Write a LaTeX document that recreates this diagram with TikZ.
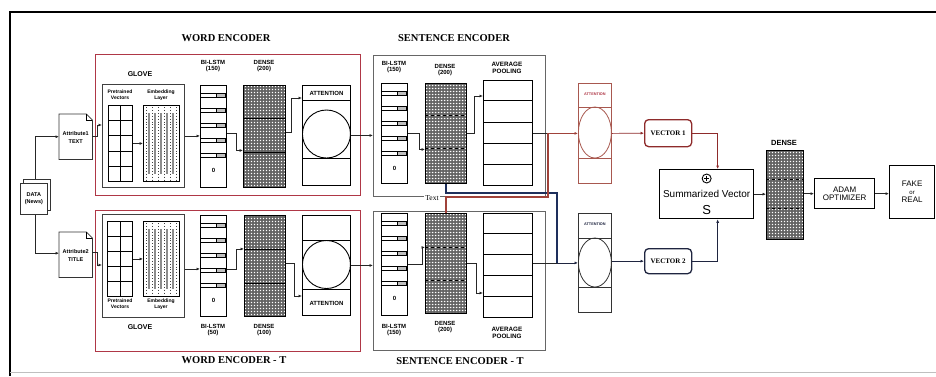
\documentclass[tikz,border=0pt]{standalone}
\usepackage{fontspec}
\setmainfont{Liberation Serif}
\newfontfamily\sansf{Liberation Sans}
\usetikzlibrary{arrows.meta,calc,patterns}
\pgfdeclarepatternformonly{wdots}{\pgfpointorigin}{\pgfqpoint{3.4pt}{3.4pt}}{\pgfqpoint{3.4pt}{3.4pt}}{%
  \pgfpathrectangle{\pgfqpoint{0.9pt}{0.9pt}}{\pgfqpoint{1.7pt}{1.7pt}}\pgfusepath{fill}}
\newcommand\FSz[2]{\fontsize{#1}{#2}\selectfont}
\definecolor{redc}{RGB}{175,55,70}
\definecolor{attred}{RGB}{168,88,79}
\definecolor{vecred}{RGB}{142,43,43}
\definecolor{vecblue}{RGB}{31,37,64}
\definecolor{linkred}{RGB}{160,66,58}
\definecolor{linkblue}{RGB}{30,47,92}
\newcommand\Bx[6]{\node[#6, minimum width={#4pt-#2pt}, minimum height={#5pt-#3pt}] (#1) at (#2,#3) {};}
\newcommand\Dots[1]{%
  \fill[pattern=wdots, pattern color=white] (#1.north west) rectangle (#1.south east);
  \draw[line width=0.9pt] (#1.north west) rectangle (#1.south east);}
\newcommand\Slots[1]{%
  \foreach \s in {8,23,38,53,68}{%
    \draw[line width=0.6pt] ($(#1.north west)+(0,\s)$) -- ($(#1.north east)+(0,\s)$);
    \draw[line width=0.6pt] ($(#1.north west)+(0,\s+4)$) -- ($(#1.north east)+(0,\s+4)$);
    \draw[line width=0.7pt, fill=black!25] ($(#1.north east)+(-11,\s)$) rectangle ($(#1.north east)+(-1.5,\s+4)$);
  }%
  \node[font=\sansf\bfseries\FSz{6}{7}, inner sep=0] at ($(#1.north)+(0,85)$) {0};}
\newcommand\Grid[1]{%
  \draw[line width=0.8pt] (#1.north) -- (#1.south);
  \foreach \k in {1,...,4}{\draw[line width=0.8pt] ($(#1.north west)!\k/5!(#1.south west)$) -- ($(#1.north east)!\k/5!(#1.south east)$);}}
\newcommand\Emb[1]{%
  \foreach \k in {0,...,5}{\draw[dotted, line width=0.9pt, black!75] ($(#1.north west)+(3+6*\k,2)$) -- ($(#1.south west)+(3+6*\k,-2)$);}
  \foreach \k in {1,...,5}{\draw[line width=1.3pt, black!45] ($(#1.north west)+(6*\k,8)$) -- ($(#1.south west)+(6*\k,-8)$);}}
\newcommand\Div[3][]{\draw[line width=0.7pt,#1] ($(#2.north west)+(0,#3)$) -- ($(#2.north east)+(0,#3)$);}
\begin{document}
\begin{tikzpicture}[x=1pt,y=-1pt,
  ln/.style={draw=black!85, line width=0.7pt},
  arr/.style={ln, -{Latex[length=3.5pt,width=3pt]}},
  blk/.style={draw=black, line width=0.9pt, inner sep=0pt, anchor=north west, fill=white},
  redbox/.style={draw=redc, line width=1.1pt, inner sep=0pt, anchor=north west},
  graybox/.style={draw=black!60, line width=0.9pt, inner sep=0pt, anchor=north west},
  densebox/.style={draw=black, line width=0.9pt, inner sep=0pt, anchor=north west, fill=black!62},
  title/.style={font=\bfseries\FSz{10.5}{12}, inner sep=0pt},
  lab/.style={font=\sansf\bfseries\FSz{6}{6.8}, align=center, inner sep=0pt},
  tiny/.style={font=\sansf\bfseries\FSz{5}{5.8}, align=center, inner sep=0pt},
  doc/.style={draw=black!80, line width=0.8pt, fill=white}
]
\useasboundingbox (0,0) rectangle (936,376);
\fill[white] (0,0) rectangle (936,376);
% outer frame
\draw[line width=2pt] (10,376) -- (10,12) -- (936,12);
\draw[black!25, line width=1pt] (10,372) -- (936,372);

% ---------- titles ----------
\node[title] (t1) at (226,38) {WORD ENCODER};
\node[title] (t2) at (234,360) {WORD ENCODER - T};
\node[title] (t3) at (454,38) {SENTENCE ENCODER};
\node[title] (t4) at (460,361) {SENTENCE ENCODER - T};

% ---------- encoder frames ----------
\Bx{wenc}{95}{54}{360}{195}{redbox}
\Bx{wencT}{95}{210}{360}{351}{redbox}
\Bx{senc}{373}{55}{545}{196}{graybox}
\Bx{sencT}{373}{211}{545}{350}{graybox}

% ---------- data and attribute docs ----------
\draw[doc] (23,179) rectangle (50,210);
\Bx{data}{20}{183}{47}{214}{doc, anchor=north west, inner sep=0pt}
\node[tiny, font=\sansf\bfseries\FSz{5.5}{6.5}] at (data.center) {DATA\\(News)};

\Bx{attr1}{59}{114}{92}{159}{inner sep=0pt, anchor=north west}
\draw[doc] (attr1.north west) -- ($(attr1.north east)+(-6,0)$) -- ($(attr1.north east)+(0,6)$) -- (attr1.south east) -- (attr1.south west) -- cycle;
\draw[line width=0.6pt] ($(attr1.north east)+(-6,0)$) -- ($(attr1.north east)+(-6,6)$) -- ($(attr1.north east)+(0,6)$);
\node[tiny, font=\sansf\bfseries\FSz{5.5}{7.5}] at ($(attr1.center)+(0,1)$) {Attribute1\\TEXT};

\Bx{attr2}{59}{232}{92}{277}{inner sep=0pt, anchor=north west}
\draw[doc] (attr2.north west) -- ($(attr2.north east)+(-6,0)$) -- ($(attr2.north east)+(0,6)$) -- (attr2.south east) -- (attr2.south west) -- cycle;
\draw[line width=0.6pt] ($(attr2.north east)+(-6,0)$) -- ($(attr2.north east)+(-6,6)$) -- ($(attr2.north east)+(0,6)$);
\node[tiny, font=\sansf\bfseries\FSz{5.5}{7.5}] at ($(attr2.center)+(0,1)$) {Attribute2\\TITLE};

% ---------- word encoder (top) ----------
\node[lab, font=\sansf\bfseries\FSz{7}{8}] (glab) at (140,74) {GLOVE};
\Bx{glove}{102}{84}{184}{187}{blk, draw=black!75}
\node[tiny] (pvl) at (120,95) {Pretrained\\Vectors};
\node[tiny] (eml) at (161,95) {Embedding\\Layer};
\Bx{pv}{108}{105}{132}{181}{blk}
\Grid{pv}
\Bx{emb}{143}{105}{179}{181}{blk}
\Emb{emb}
\node[lab] (bll) at (213,66) {BI-LSTM\\(150)};
\Bx{bl}{200}{85}{226}{187}{blk, line width=1.2pt}
\Slots{bl}
\node[lab] (dnl) at (264,66) {DENSE\\(200)};
\Bx{dn}{243}{85}{285}{187}{densebox}
\Dots{dn}
\Div{dn}{33}\Div{dn}{67}
\Bx{at}{302}{85}{350}{185}{blk}
\Div{at}{15}\Div{at}{73}
\draw[line width=0.9pt] ($(at.north)+(0,49)$) circle (24);
\node[lab] at ($(at.north)+(0,8)$) {ATTENTION};

% ---------- word encoder - T ----------
\node[lab, font=\sansf\bfseries\FSz{7}{8}] (glabT) at (140,327) {GLOVE};
\Bx{gloveT}{102}{214}{184}{317}{blk, draw=black!75}
\node[tiny] at (120,304) {Pretrained\\Vectors};
\node[tiny] at (161,304) {Embedding\\Layer};
\Bx{pvT}{107}{221}{132}{296}{blk}
\Grid{pvT}
\Bx{embT}{143}{221}{179}{296}{blk}
\Emb{embT}
\node[lab] at (213,330) {BI-LSTM\\(50)};
\Bx{blT}{200}{215}{226}{316}{blk, line width=1.2pt}
\Slots{blT}
\node[lab] at (264,330) {DENSE\\(100)};
\Bx{dnT}{244}{215}{285}{316}{densebox}
\Dots{dnT}
\Div{dnT}{34}\Div{dnT}{68}
\Bx{atT}{302}{215}{350}{315}{blk}
\Div{atT}{25}\Div{atT}{74}
\draw[line width=0.9pt] ($(atT.north)+(0,49.5)$) circle (24);
\node[lab] at ($(atT.north)+(0,88)$) {ATTENTION};

% ---------- sentence encoder (top) ----------
\node[lab] at (394,67) {BI-LSTM\\(150)};
\Bx{bl2}{381}{83}{407}{183}{blk, line width=1.2pt}
\Slots{bl2}
\node[lab] at (445,70) {DENSE\\(200)};
\Bx{dn2}{425}{83}{466}{183}{densebox}
\Dots{dn2}
\Div[dashed]{dn2}{32}\Div[dashed]{dn2}{65}
\node[lab, font=\sansf\bfseries\FSz{6.3}{7}] at (507,68) {AVERAGE\\POOLING};
\Bx{avg}{483}{80}{532}{185}{blk}
\Div{avg}{20}\Div{avg}{42}\Div{avg}{63}\Div{avg}{84}

% ---------- sentence encoder - T ----------
\node[lab] at (394,330) {BI-LSTM\\(150)};
\Bx{bl2T}{381}{213}{407}{315}{blk, line width=1.2pt}
\Slots{bl2T}
\node[lab] at (445,327) {DENSE\\(200)};
\Bx{dn2T}{425}{213}{466}{313}{densebox}
\Dots{dn2T}
\Div[dashed]{dn2T}{34}\Div[dashed]{dn2T}{67}
\node[lab, font=\sansf\bfseries\FSz{6.3}{7}] at (507,333) {AVERAGE\\POOLING};
\Bx{avgT}{483}{213}{532}{317}{blk}
\Div{avgT}{20}\Div{avgT}{41}\Div{avgT}{62}\Div{avgT}{83}

% ---------- attention 1 / 2 ----------
\Bx{att1}{578}{83}{611}{183}{blk, draw=attred, line width=0.8pt}
\Div[attred]{att1}{24}\Div[attred]{att1}{75}
\draw[attred, line width=0.8pt] ($(att1.north)+(0,49.5)$) ellipse (16.5 and 25.5);
\node[font=\sansf\bfseries\FSz{3.8}{4}, text=redc, inner sep=0pt] at ($(att1.north)+(0,11)$) {ATTENTION};

\Bx{att2}{578}{213}{611}{312}{blk, draw=black!80, line width=0.8pt}
\Div[black!80]{att2}{25}\Div[black!80]{att2}{74}
\draw[black!80, line width=0.8pt] ($(att2.north)+(0,49.5)$) ellipse (16.5 and 24.5);
\node[font=\sansf\bfseries\FSz{3.8}{4}, text=vecblue, inner sep=0pt] at ($(att2.north)+(0,11)$) {ATTENTION};

% ---------- right side ----------
\Bx{vec1}{644}{119}{691}{146}{blk, draw=vecred, line width=1.3pt, rounded corners=4pt}
\node[font=\bfseries\FSz{7}{8}, inner sep=0pt] at (vec1.center) {VECTOR 1};
\Bx{vec2}{644}{248}{691}{273}{blk, draw=vecblue, line width=1.3pt, rounded corners=4pt}
\node[font=\bfseries\FSz{7}{8}, inner sep=0pt] at (vec2.center) {VECTOR 2};

\Bx{summ}{659}{169}{753}{218}{blk, line width=1.3pt}
\draw[line width=0.9pt] ($(summ.north)+(0,9.5)$) circle (4.5);
\draw[line width=0.9pt] ($(summ.north)+(-2.8,9.5)$) -- ($(summ.north)+(2.8,9.5)$);
\draw[line width=0.9pt] ($(summ.north)+(0,6.7)$) -- ($(summ.north)+(0,12.3)$);
\node[font=\sansf\FSz{10}{11}, inner sep=0pt] at ($(summ.north)+(0,24.5)$) {Summarized Vector};
\node[font=\sansf\FSz{13}{14}, inner sep=0pt] at ($(summ.north)+(0,41)$) {S};

\node[font=\sansf\bfseries\FSz{7.5}{8}, inner sep=0pt] at (784,143) {DENSE};
\Bx{dnf}{766}{150}{803}{239}{densebox}
\Dots{dnf}
\Div[dashed]{dnf}{29}\Div[dashed]{dnf}{58}

\Bx{adam}{814}{178}{874}{208}{blk, line width=1.3pt}
\node[font=\sansf\FSz{8}{7.5}, align=center, inner sep=0pt] at (adam.center) {ADAM\\OPTIMIZER};
\Bx{fake}{889}{165}{934}{218}{blk, line width=1.3pt}
\node[font=\sansf\FSz{8}{8}, align=center, inner sep=0pt] at (fake.center) {FAKE\\{\FSz{6}{6}or}\\REAL};

% ---------- connectors ----------
\draw[arr] ($(data.north)+(1.5,-4)$) |- (attr1.west);
\draw[arr] ($(data.south)+(1.5,0)$) |- ($(attr2.west)+(0,-1.5)$);
\draw[arr] (attr1.east) -- ++(5,0) |- ($(glove.north west)+(0,41)$);
\draw[arr] ($(attr2.east)+(0,-2)$) -- ++(5,0) |- ($(gloveT.north west)+(0,51)$);

\draw[arr] (pv.east) -- (emb.west);
\draw[arr] (glove.east) -- (glove.east -| bl.west);
\draw[arr] ($(bl.east)+(0,-3)$) -- ++(9,0) |- ($(dn.west)+(0,14)$);
\draw[arr] ($(dn.east)+(0,-4)$) -- ++(5,0) |- ($(at.north west)+(0,13)$);
\draw[arr] (at.east) -- (at.east -| senc.west);

\draw[arr] (pvT.east) -- (pvT.east -| embT.west);
\draw[arr] ($(gloveT.east)+(0,3)$) -- ($(gloveT.east -| blT.west)+(0,3)$);
\draw[arr] ($(blT.east)+(0,3)$) -- ++(9,0) |- ($(dnT.west)+(0,-17)$);
\draw[arr] ($(dnT.east)+(0,-3)$) -- ++(8,0) |- ($(atT.north west)+(0,81)$);
\draw[arr] (atT.east) -- (atT.east -| sencT.west);

\draw[arr] (bl2.east) -- ++(11,0) |- ($(dn2.west)+(0,16)$);
\draw[arr] (dn2.east) -- ++(7,0) |- ($(avg.north west)+(0,16)$);
\draw[arr] (bl2T.east) -- ++(14,0) |- ($(dn2T.west)+(0,-16)$);
\draw[arr] (dn2T.east) -- ++(9,0) |- ($(avgT.north west)+(0,80)$);

\coordinate (j1) at ($(att1.west)+(-30,0)$);
\coordinate (j2) at ($(att2.west)+(-21,0)$);
\draw[ln] (avg.east |- att1.west) -- (j1);
\draw[arr, draw=linkred] (j1) -- (att1.west);
\draw[ln] (avgT.east |- att2.west) -- (j2);
\draw[arr, draw=vecblue] (j2) -- (att2.west);

% cross links
\draw[draw=linkblue, line width=1.2pt] (dn2.south) -- ++(0,9) -| (j2);
\draw[draw=linkred, line width=1.2pt] (dn2T.north) -- ++(0,-16) -| (j1);
\node[font=\FSz{7.5}{8}, fill=white, inner sep=1pt] (txt) at (432,198) {Text};

\draw[arr, draw=vecred] (att1.east) -- (vec1.west);
\draw[arr, draw=vecblue] (att2.east |- vec2.west) -- (vec2.west);
\draw[arr, draw=vecred] (vec1.east) -| ($(summ.north)+(11,0)$);
\draw[arr, draw=vecblue] (vec2.east) -| ($(summ.south)+(11,0)$);
\draw[arr] (summ.east) -- (summ.east -| dnf.west);
\draw[arr] (adam.west -| dnf.east) -- (adam.west);
\draw[arr] (adam.east) -- (adam.east -| fake.west);
\end{tikzpicture}
\end{document}
